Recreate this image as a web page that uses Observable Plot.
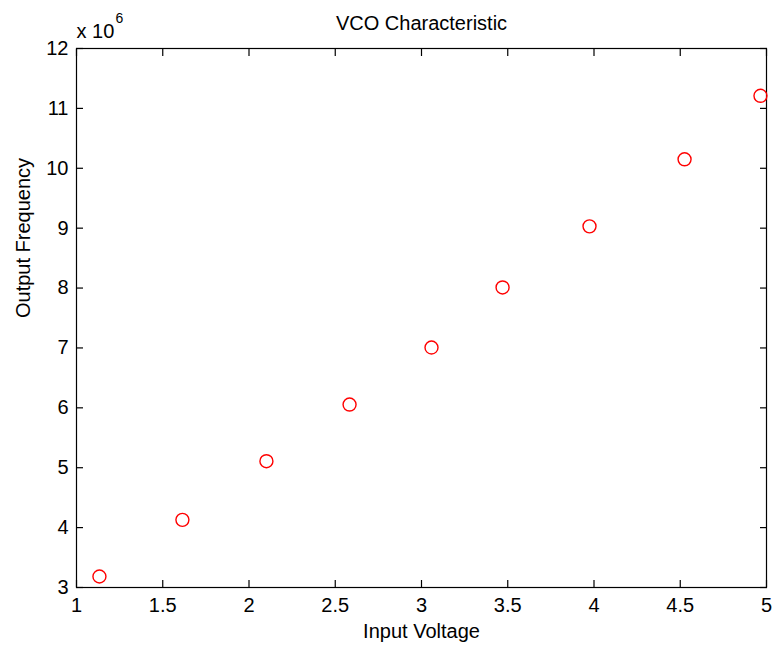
<!DOCTYPE html>
<html>
<head>
<meta charset="utf-8">
<script src="https://cdn.jsdelivr.net/npm/d3@7"></script>
<script src="https://cdn.jsdelivr.net/npm/@observablehq/plot@0.6"></script>
<style>
  html, body { margin: 0; padding: 0; background: #fff; }
  #chart svg { display: block; }
</style>
</head>
<body>
<div id="chart"></div>
<script>
// Data (input voltage in V, output frequency in Hz)
const inputVoltage = [1.133, 1.614, 2.101, 2.583, 3.058, 3.470, 3.974, 4.525, 4.965];
const outputFrequency = [3.184e6, 4.130e6, 5.109e6, 6.055e6, 7.007e6, 8.010e6, 9.030e6, 10.150e6, 11.210e6];

const xTicks = [1, 1.5, 2, 2.5, 3, 3.5, 4, 4.5, 5];
const yTicks = [3e6, 4e6, 5e6, 6e6, 7e6, 8e6, 9e6, 10e6, 11e6, 12e6];

const titleText = "VCO Characteristic";
const xLabelText = "Input Voltage";
const yLabelText = "Output Frequency";
const exponentBase = "x 10";
const exponentPower = "6";

const points = inputVoltage.map((v, i) => ({v, f: outputFrequency[i]}));

const font = "Liberation Sans, Arial, Helvetica, sans-serif";
const fs = 20;
const tickLen = 7;
const blank = () => "";

const chart = Plot.plot({
  width: 773,
  height: 646,
  marginLeft: 76,
  marginRight: 7,
  marginTop: 48,
  marginBottom: 59,
  style: {fontFamily: font, fontSize: fs + "px", color: "#000", background: "#fff"},
  x: {domain: [1, 5]},
  y: {domain: [3e6, 12e6]},
  marks: [
    Plot.frame({stroke: "#000", strokeWidth: 1.2}),
    // inward ticks on all four sides (axis ticks shifted into the frame)
    Plot.axisX({anchor: "bottom", ticks: xTicks, tickSize: tickLen, dy: -tickLen, tickFormat: blank, label: null, stroke: "#000", strokeWidth: 1.2}),
    Plot.axisX({anchor: "top", ticks: xTicks, tickSize: tickLen, dy: tickLen, tickFormat: blank, label: null, stroke: "#000", strokeWidth: 1.2}),
    Plot.axisY({anchor: "left", ticks: yTicks, tickSize: tickLen, dx: tickLen, tickFormat: blank, label: null, stroke: "#000", strokeWidth: 1.2}),
    Plot.axisY({anchor: "right", ticks: yTicks, tickSize: tickLen, dx: -tickLen, tickFormat: blank, label: null, stroke: "#000", strokeWidth: 1.2}),
    // tick labels
    Plot.axisX({anchor: "bottom", ticks: xTicks, tickSize: 0, tickPadding: 10, label: null, fontSize: fs, tickFormat: d => String(d)}),
    Plot.axisY({anchor: "left", ticks: yTicks, tickSize: 0, tickPadding: 8, label: null, fontSize: fs, tickFormat: d => String(Math.round(d / 1e6))}),
    Plot.dot(points, {x: "v", y: "f", r: 6.5, stroke: "#ff0000", strokeWidth: 1.4, fill: "none"}),
    Plot.text([titleText], {frameAnchor: "top", dy: -25, fontSize: fs, lineAnchor: "middle", fill: "#000"}),
    Plot.text([xLabelText], {frameAnchor: "bottom", dy: 44, fontSize: fs, lineAnchor: "middle", fill: "#000"}),
    Plot.text([yLabelText], {frameAnchor: "left", dx: -53, rotate: -90, fontSize: fs, lineAnchor: "middle", fill: "#000"}),
    Plot.text([exponentBase], {frameAnchor: "top-left", dy: -17, textAnchor: "start", fontSize: fs, lineAnchor: "middle", fill: "#000"}),
    Plot.text([exponentPower], {frameAnchor: "top-left", dx: 39, dy: -30, textAnchor: "start", fontSize: 14, lineAnchor: "middle", fill: "#000"})
  ]
});
document.getElementById("chart").appendChild(chart);
</script>
</body>
</html>
